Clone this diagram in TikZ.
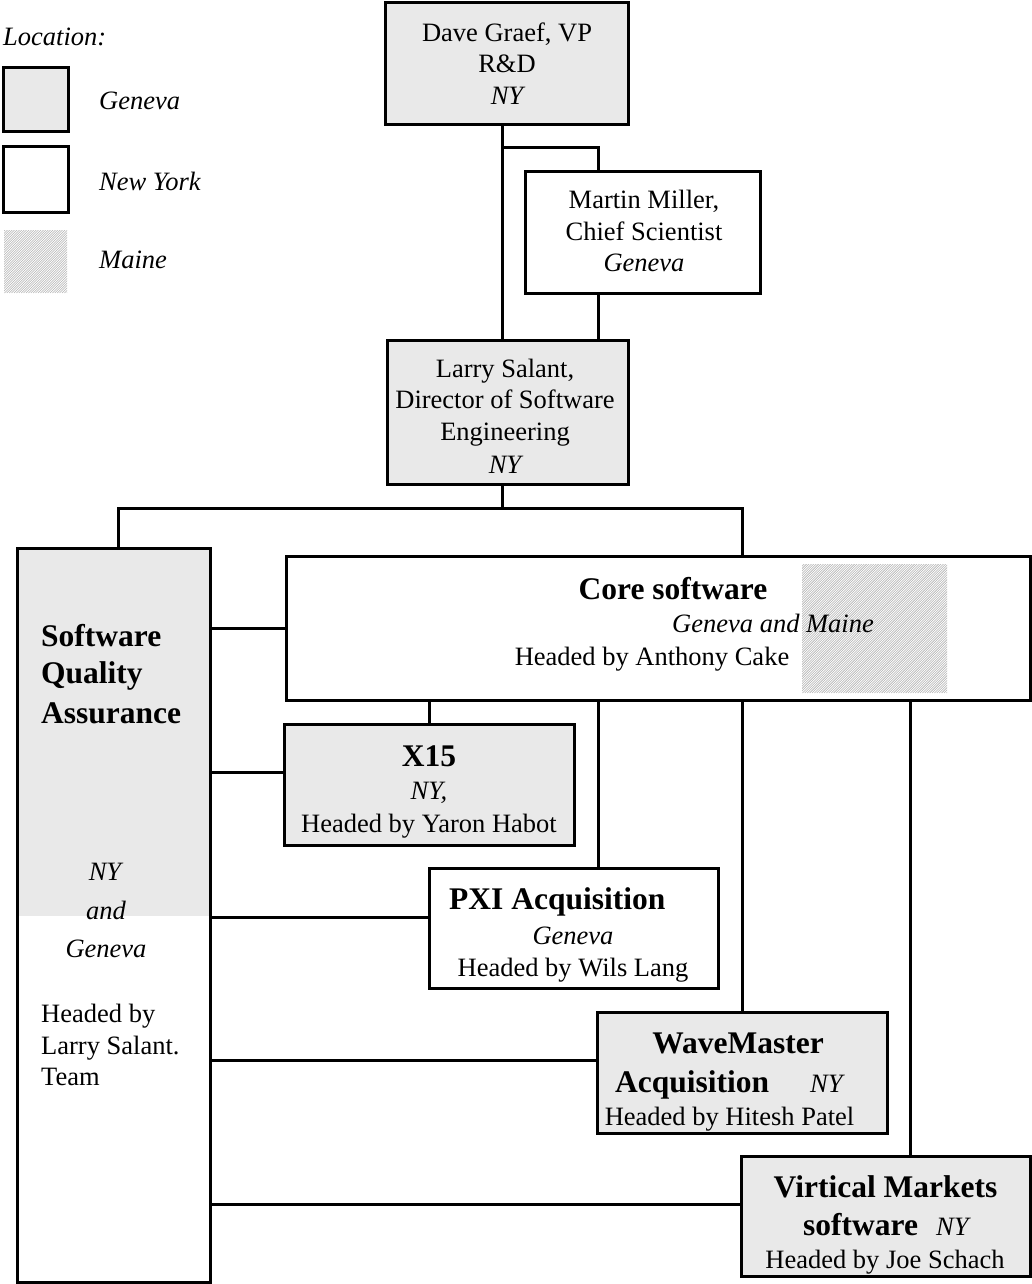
\documentclass[tikz,border=0pt]{standalone}
\usepackage{fontspec}
\setmainfont{Liberation Serif}
\usetikzlibrary{fit}
\definecolor{genevafill}{RGB}{233,233,233}
\definecolor{hatchgray}{RGB}{178,178,178}
\newcommand{\rmtxt}{\fontsize{26.5}{31.5}\selectfont}
\newcommand{\bftxt}{\fontsize{31.5}{38}\selectfont\bfseries}
\begin{document}
\begin{tikzpicture}[x=1pt,y=-1pt,
  box/.style={draw=black, line width=3pt, rectangle, inner sep=0pt},
  gen/.style={box, fill=genevafill},
  nyb/.style={box, fill=white},
  conn/.style={line width=3pt},
  txt/.style={inner sep=0pt, anchor=base, font=\rmtxt},
  itxt/.style={txt, font=\rmtxt\itshape},
  btxt/.style={txt, font=\bftxt},
  lft/.style={anchor=base west},
  hatch/.style={rectangle, inner sep=0pt, fill=white, path picture={
    \foreach \k in {-170,-167.6,...,170}
      \draw[hatchgray, line width=0.55pt]
        ([xshift=\k pt]path picture bounding box.south west) -- ++(230pt,230pt);
  }}
]
\useasboundingbox (0,0) rectangle (1032,1284);

% legend
\node[itxt, lft] (tLoc) at (3,46) {Location:};
\node[gen, fit={(3,68) (68,132)}] (legG) {};
\node[nyb, fit={(3,147) (68,212)}] (legN) {};
\node[hatch, fit={(4,230) (67,293)}] (legM) {};
\node[itxt, lft] (tLG) at (99,110) {Geneva};
\node[itxt, lft] (tLN) at (99,190) {New York};
\node[itxt, lft] (tLM) at (99,268) {Maine};

% management boxes
\node[gen, fit={(385,3) (628,125)}] (dave) {};
\node[nyb, fit={(525,172) (760,293)}] (martin) {};
\node[gen, fit={(387,340) (628,484)}] (larry) {};

% team boxes
\fill[genevafill] (17,548) rectangle (210,916);
\node[box, fit={(17,548) (210,1282)}] (sqa) {};
\node[nyb, fit={(286,556) (1030,700)}] (core) {};
\node[hatch, fit={(802,564) (947,693)}] (corehatch) {};
\node[gen, fit={(284,724) (574,845)}] (x15) {};
\node[nyb, fit={(429,868) (718,988)}] (pxi) {};
\node[gen, fit={(597,1012) (887,1133)}] (wave) {};
\node[gen, fit={(741,1156) (1030,1276)}] (virt) {};

% reporting lines
\coordinate (j1) at (502,148);
\coordinate (j2) at (598,148);
\coordinate (busL) at (118,508);
\coordinate (busR) at (742,508);
\coordinate (busM) at (502,508);
\draw[conn] (502,0 |- dave.south) -- (502,0 |- larry.north);
\draw[conn, line join=miter] (j1) -- (j2) -- (598,0 |- martin.north);
\draw[conn] (598,0 |- martin.south) -- (598,0 |- larry.north);
\draw[conn] (502,0 |- larry.south) -- (busM);
\draw[conn, line join=miter] (118,0 |- sqa.north) -- (busL) -- (busR) -- (742,0 |- core.north);
\draw[conn] (sqa.east |- 0,628) -- (core.west |- 0,628);
\draw[conn] (sqa.east |- 0,772) -- (x15.west |- 0,772);
\draw[conn] (sqa.east |- 0,917) -- (pxi.west |- 0,917);
\draw[conn] (sqa.east |- 0,1060) -- (wave.west |- 0,1060);
\draw[conn] (sqa.east |- 0,1204) -- (virt.west |- 0,1204);
\draw[conn] (429,0 |- core.south) -- (429,0 |- x15.north);
\draw[conn] (598,0 |- core.south) -- (598,0 |- pxi.north);
\draw[conn] (742,0 |- core.south) -- (742,0 |- wave.north);
\draw[conn] (910,0 |- core.south) -- (910,0 |- virt.north);

% texts
\node[txt] (dave1) at (507,42) {Dave Graef, VP};
\node[txt] (dave2) at (507,73) {R\&D};
\node[itxt] (dave3) at (507,105) {NY};
\node[txt] (mm1) at (644,208) {Martin Miller,};
\node[txt] (mm2) at (644,240) {Chief Scientist};
\node[itxt] (mm3) at (644,271) {Geneva};
\node[txt] (ls1) at (505,377) {Larry Salant,};
\node[txt] (ls2) at (505,408) {Director of Software};
\node[txt] (ls3) at (505,440) {Engineering};
\node[itxt] (ls4) at (505,473) {NY};
\node[btxt] (cs1) at (673,599) {Core software};
\node[itxt, lft] (cs2) at (672,632) {Geneva and Maine};
\node[txt] (cs3) at (652,665) {Headed by Anthony Cake};
\node[btxt, lft] (sq1) at (41,646) {Software};
\node[btxt, lft] (sq2) at (41,683) {Quality};
\node[btxt, lft] (sq3) at (41,723) {Assurance};
\node[itxt] (sq4) at (105,880) {NY};
\node[itxt] (sq5) at (106,919) {and};
\node[itxt] (sq6) at (106,957) {Geneva};
\node[txt, lft] (sq7) at (41,1022) {Headed by};
\node[txt, lft] (sq8) at (41,1054) {Larry Salant.};
\node[txt, lft] (sq9) at (41,1085) {Team};
\node[btxt] (xa) at (429,766) {X15};
\node[itxt] (xb) at (429,799) {NY,};
\node[txt] (xc) at (429,832) {Headed by Yaron Habot};
\node[btxt, lft] (pa) at (449,909) {PXI Acquisition};
\node[itxt] (pb) at (573,944) {Geneva};
\node[txt] (pc) at (573,976) {Headed by Wils Lang};
\node[btxt] (wa) at (738,1053) {WaveMaster};
\node[btxt, lft] (wb) at (615,1092) {Acquisition};
\node[itxt, lft] (wc) at (810,1092) {NY};
\node[txt] (wd) at (729.5,1125) {Headed by Hitesh Patel};
\node[btxt] (va) at (885.5,1197) {Virtical Markets};
\node[btxt, lft] (vb) at (803,1235) {software};
\node[itxt, lft] (vc) at (936,1235) {NY};
\node[txt] (vd) at (885,1268) {Headed by Joe Schach};
\end{tikzpicture}
\end{document}
